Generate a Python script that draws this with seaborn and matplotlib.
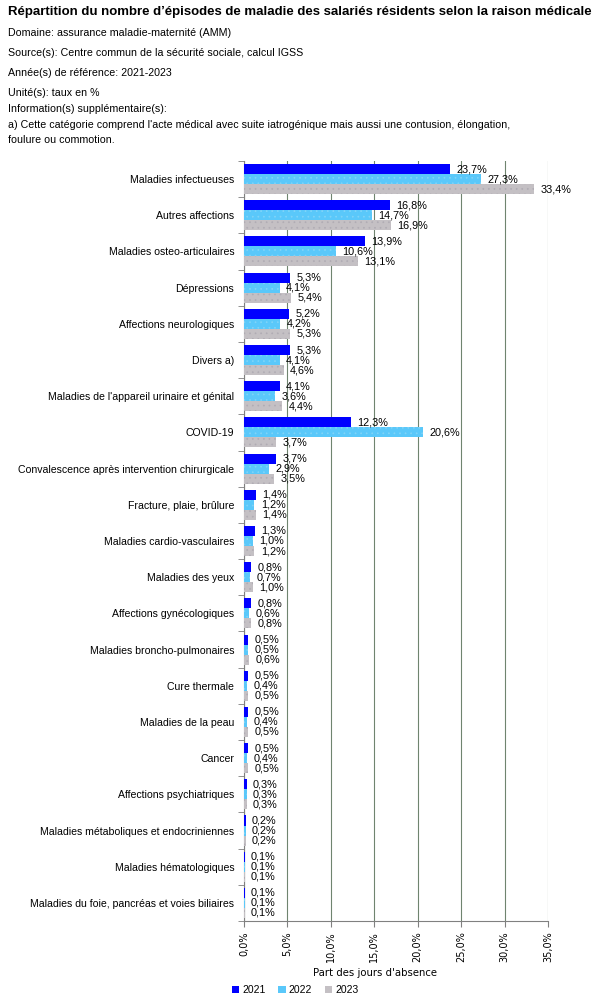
import matplotlib.pyplot as plt
import numpy as np
import pandas as pd
import seaborn as sns

categories = [
    "Maladies infectueuses", "Autres affections", "Maladies osteo-articulaires",
    "Dépressions", "Affections neurologiques", "Divers a)",
    "Maladies de l'appareil urinaire et génital", "COVID-19",
    "Convalescence après intervention chirurgicale", "Fracture, plaie, brûlure",
    "Maladies cardio-vasculaires", "Maladies des yeux", "Affections gynécologiques",
    "Maladies broncho-pulmonaires", "Cure thermale", "Maladies de la peau", "Cancer",
    "Affections psychiatriques", "Maladies métaboliques et endocriniennes",
    "Maladies hématologiques", "Maladies du foie, pancréas et voies biliaires",
]
years = ["2021", "2022", "2023"]
v2021 = [23.7, 16.8, 13.9, 5.3, 5.2, 5.3, 4.1, 12.3, 3.7, 1.4, 1.3, 0.8, 0.8, 0.5, 0.5, 0.5, 0.5, 0.3, 0.2, 0.1, 0.1]
v2022 = [27.3, 14.7, 10.6, 4.1, 4.2, 4.1, 3.6, 20.6, 2.9, 1.2, 1.0, 0.7, 0.6, 0.5, 0.4, 0.4, 0.4, 0.3, 0.2, 0.1, 0.1]
v2023 = [33.4, 16.9, 13.1, 5.4, 5.3, 4.6, 4.4, 3.7, 3.5, 1.4, 1.2, 1.0, 0.8, 0.6, 0.5, 0.5, 0.5, 0.3, 0.2, 0.1, 0.1]
colors = ["#0000ff", "#5ac8fa", "#c4c0c4"]
hatch_colors = [None, "#80d4f8", "#b0acb4"]

header = [
    "Domaine: assurance maladie-maternité (AMM)",
    "Source(s): Centre commun de la sécurité sociale, calcul IGSS",
    "Année(s) de référence: 2021-2023",
    "Unité(s): taux en %",
    "Information(s) supplémentaire(s):",
    "a) Cette catégorie comprend l'acte médical avec suite iatrogénique mais aussi une contusion, élongation,",
    "foulure ou commotion.",
]

df = pd.DataFrame({
    "cat": categories * 3,
    "year": sum([[y] * len(categories) for y in years], []),
    "val": v2021 + v2022 + v2023,
})

plt.rcParams["font.family"] = ["Liberation Sans", "DejaVu Sans"]
plt.rcParams["hatch.linewidth"] = 0.5

grid_color = "#6f846f"

fig = plt.figure(figsize=(6.08, 10.05), dpi=100)
ax = fig.add_axes([244 / 608, 0.0836, 304 / 608, 0.7562])

sns.barplot(data=df, y="cat", x="val", hue="year", orient="h", palette=colors,
            width=0.83, gap=0, saturation=1, ax=ax, legend=True)

for cont, hc in zip(ax.containers, hatch_colors):
    for bar in cont:
        bar.set_zorder(3)
        bar.set_linewidth(0)
        if hc:
            bar.set_hatch("...")
            bar.set_edgecolor(hc)
    ax.bar_label(cont, labels=[f"{v:.1f}%".replace(".", ",") for v in cont.datavalues],
                 padding=4.5, fontsize=7.8, zorder=4)

ax.set_xlim(0, 35)
ax.set_ylim(len(categories) - 0.5, -0.5)
ax.set_xticks(np.arange(0, 36, 5))
ax.set_xticklabels([f"{t:.1f}%".replace(".", ",") for t in np.arange(0, 36, 5)],
                   rotation=90, fontsize=7, family="DejaVu Sans")
ax.tick_params(axis="y", length=0, labelsize=7.6, pad=7)
ax.set_yticks(np.arange(-0.5, len(categories)), minor=True)
ax.tick_params(axis="y", which="minor", length=4, color="#808080")
ax.tick_params(axis="x", length=4, color="#808080")
ax.grid(axis="x", color=grid_color, linewidth=0.8)
ax.set_axisbelow(True)
for s in ["top", "right"]:
    ax.spines[s].set_visible(False)
for s in ["left", "bottom"]:
    ax.spines[s].set_color("#808080")
ax.set_ylabel("")
ax.set_xlabel("Part des jours d'absence", fontsize=7.3, family="DejaVu Sans", labelpad=4)
ax.xaxis.label.set_x(0.43)

handles, labels = ax.get_legend_handles_labels()
ax.get_legend().remove()
fig.legend(handles, labels, loc="center left", bbox_to_anchor=(232 / 608, 1 - 990 / 1005),
           ncol=3, frameon=False, fontsize=7.5, handlelength=0.7, handleheight=0.7,
           handletextpad=0.3, columnspacing=1.2, borderaxespad=0, borderpad=0)

fig.text(8 / 608, 1 - 12 / 1005, "Répartition du nombre d’épisodes de maladie des salariés résidents selon la raison médicale",
         fontsize=9.55, fontweight="bold", va="center")
ys = [33, 53, 73, 93, 109, 125, 140]
for y, t in zip(ys, header):
    fig.text(8 / 608, 1 - y / 1005, t, fontsize=7.7, va="center")

fig.savefig("out.png", dpi=100)
